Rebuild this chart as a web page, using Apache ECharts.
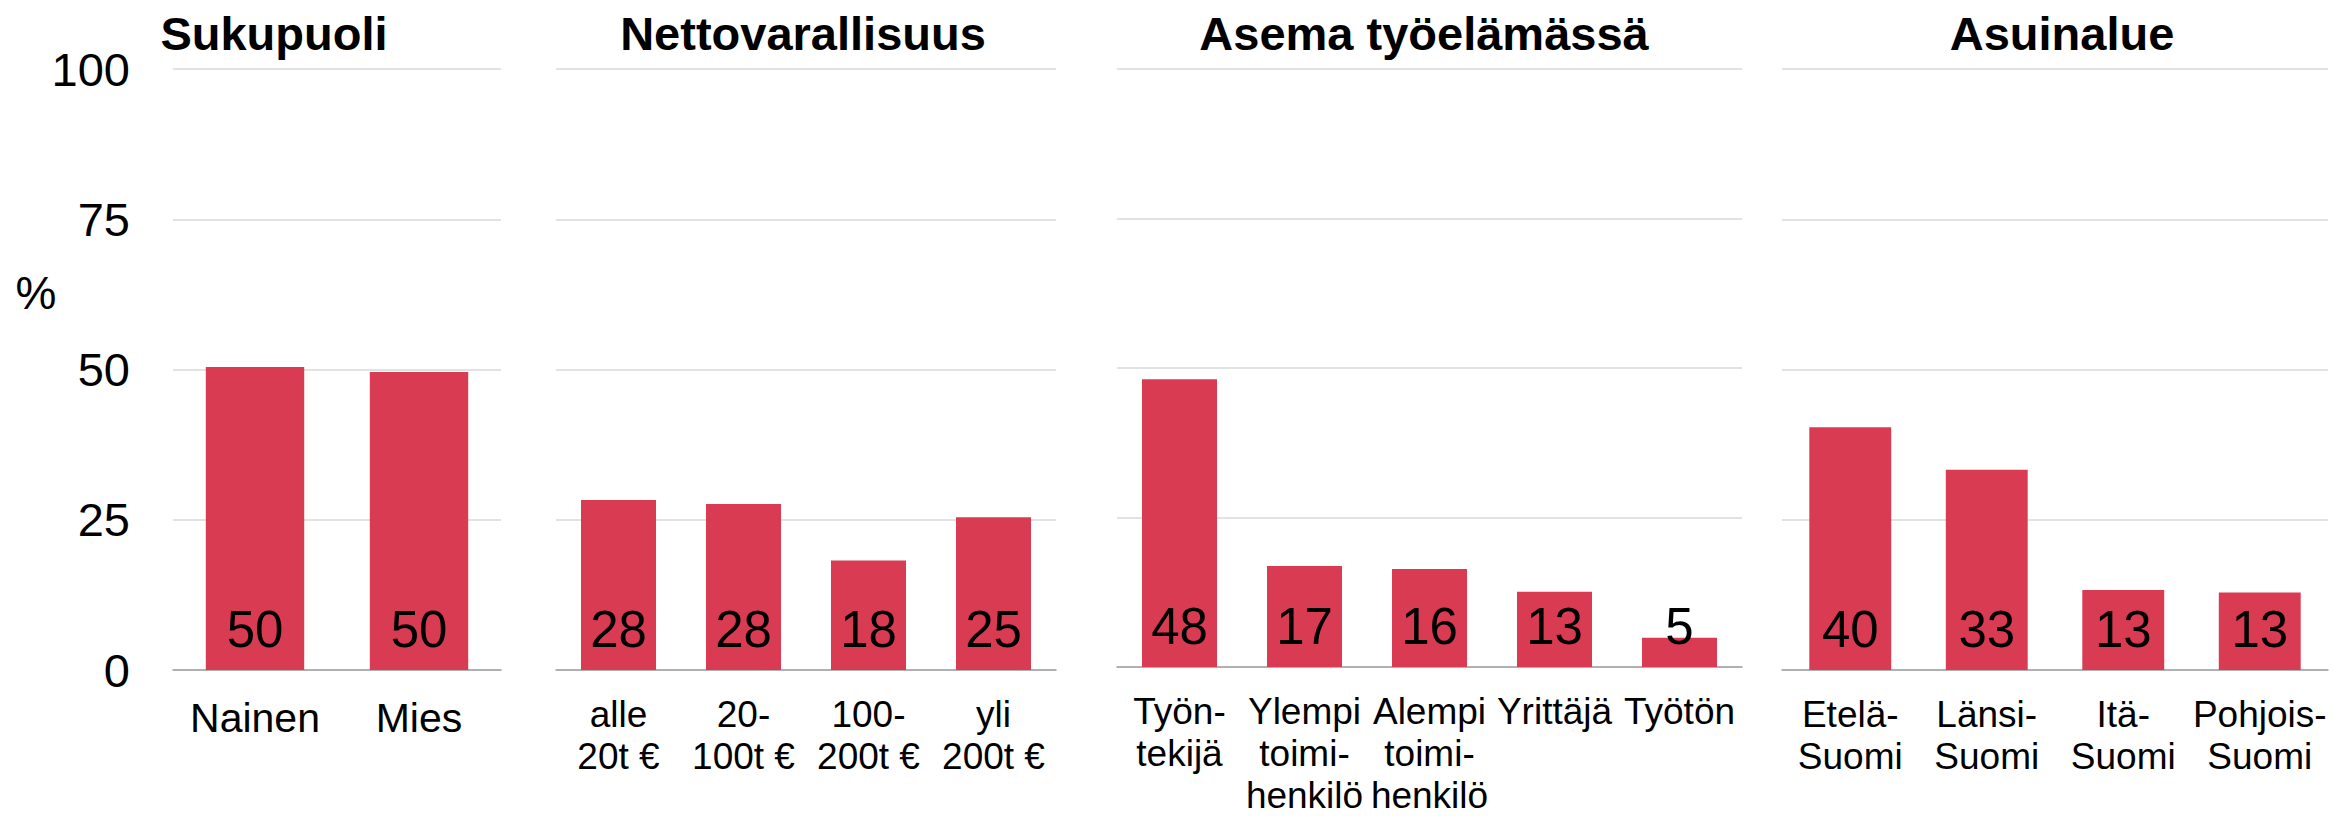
<!DOCTYPE html>
<html>
<head>
<meta charset="utf-8">
<script src="https://cdn.jsdelivr.net/npm/echarts@6.0.0/dist/echarts.min.js"></script>
<style>
  html, body { margin: 0; padding: 0; background: #fff; overflow: hidden; }
  #chart { width: 2334px; height: 816px; }
</style>
</head>
<body>
<div id="chart"></div>
<script>
// data
const panelTitles = ['Sukupuoli', 'Nettovarallisuus', 'Asema työelämässä', 'Asuinalue'];

const sukupuoliLabels = ['Nainen', 'Mies'];
const sukupuoliValues = [50.4, 49.6];

const varallisuusLabels = ['alle\n20t €', '20-\n100t €', '100-\n200t €', 'yli\n200t €'];
const varallisuusValues = [28.3, 27.6, 18.2, 25.4];

const asemaLabels = ['Työn-\ntekijä', 'Ylempi\ntoimi-\nhenkilö', 'Alempi\ntoimi-\nhenkilö', 'Yrittäjä', 'Työtön'];
const asemaValues = [48.1, 16.9, 16.4, 12.6, 4.9];

const alueLabels = ['Etelä-\nSuomi', 'Länsi-\nSuomi', 'Itä-\nSuomi', 'Pohjois-\nSuomi'];
const alueValues = [40.4, 33.3, 13.3, 12.9];

const yMin = 0, yMax = 100, yStep = 25;
const unitLabel = '%';

// panel layout (px); first panel has a bit bigger category text
const panels = [
  { cats: sukupuoliLabels, vals: sukupuoliValues, left: 173, width: 328, titleX: 274, catSize: 41, catMargin: 27 },
  { cats: varallisuusLabels, vals: varallisuusValues, left: 556, width: 500, titleX: 803, catSize: 37, catMargin: 23 },
  { cats: asemaLabels, vals: asemaValues, left: 1117, width: 625, titleX: 1424, catSize: 37, catMargin: 23 },
  { cats: alueLabels, vals: alueValues, left: 1782, width: 546, titleX: 2062, catSize: 37, catMargin: 23 }
];

const font = '"Liberation Sans", Arial, sans-serif';
const barColor = '#d93b52';
const axisGrey = '#a0a0a0';

const chart = echarts.init(document.getElementById('chart'), null, { renderer: 'svg' });

const grid = [], xAxis = [], yAxis = [], series = [], graphic = [];

panels.forEach(function (p, i) {
  grid.push({ left: p.left, width: p.width, top: 69, bottom: 146 });
  xAxis.push({
    type: 'category',
    gridIndex: i,
    data: p.cats,
    axisLine: { lineStyle: { color: axisGrey, width: 1.5 } },
    axisTick: { length: 11, lineStyle: { color: axisGrey, width: 1.5 } },
    axisLabel: {
      interval: 0, margin: p.catMargin, color: '#000',
      fontFamily: font, fontSize: p.catSize, lineHeight: 42
    }
  });
  yAxis.push({
    type: 'value',
    gridIndex: i,
    min: yMin, max: yMax, interval: yStep,
    axisLine: { show: false },
    axisTick: { show: false },
    splitLine: { lineStyle: { color: '#d9d9d9', width: 1.5 } },
    axisLabel: {
      show: i === 0, margin: 43, color: '#000',
      fontFamily: font, fontSize: 47
    }
  });
  series.push({
    type: 'bar',
    xAxisIndex: i,
    yAxisIndex: i,
    data: p.vals,
    barCategoryGap: '40%',
    itemStyle: { color: barColor },
    silent: true,
    label: {
      show: true,
      position: 'insideBottom',
      distance: 15,
      color: '#000',
      fontFamily: font,
      fontSize: 51,
      formatter: function (d) { return Math.round(d.value); }
    }
  });
  graphic.push({
    type: 'text',
    x: p.titleX,
    y: 33,
    style: {
      text: panelTitles[i],
      font: 'bold 47px ' + font,
      fill: '#000',
      align: 'center',
      verticalAlign: 'middle'
    }
  });
});

graphic.push({
  type: 'text',
  x: 36,
  y: 293,
  style: {
    text: unitLabel,
    font: '46px ' + font,
    fill: '#000',
    align: 'center',
    verticalAlign: 'middle'
  }
});

chart.setOption({
  backgroundColor: '#fff',
  animation: false,
  grid: grid,
  xAxis: xAxis,
  yAxis: yAxis,
  series: series,
  graphic: graphic
});
</script>
</body>
</html>
